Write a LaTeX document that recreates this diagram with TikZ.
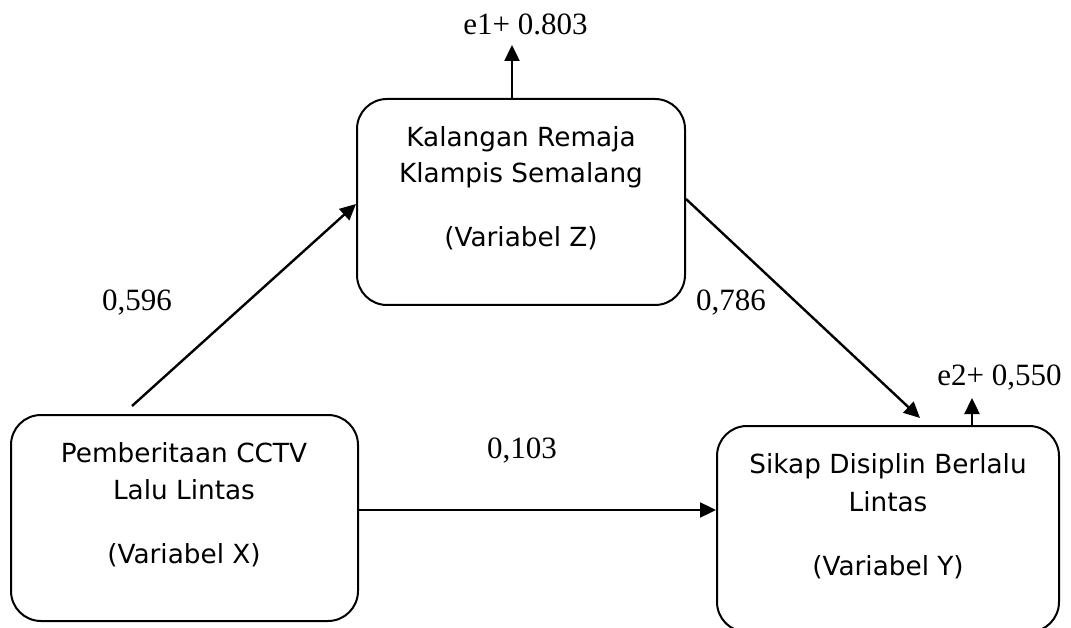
\documentclass[tikz,border=0pt]{standalone}
\usepackage{fontspec}
\setmainfont{Liberation Serif}
\newfontfamily\boxfont{DejaVu Sans}
\usetikzlibrary{arrows.meta}
\begin{document}
\begin{tikzpicture}[x=1pt,y=-1pt,
  varbox/.style={draw=black, line width=2pt, rounded corners=30pt, inner sep=0pt},
  boxtext/.style={font=\boxfont\fontsize{26.3}{31}\selectfont, anchor=base, inner sep=0pt},
  coef/.style={font=\fontsize{31}{37}\selectfont, anchor=base, inner sep=0pt},
  arrowline/.style={line width=2.4pt, -{Triangle[length=16pt,width=15pt]}}]
\fill[white] (0,0) rectangle (1071,628);
\useasboundingbox (0,0) rectangle (1071,628);
% boxes
\node[varbox, minimum width=347pt, minimum height=206pt] (x) at (184.5,518) {};
\node[varbox, minimum width=328pt, minimum height=206pt] (z) at (521,202) {};
\node[varbox, minimum width=342pt, minimum height=206pt] (y) at (888,529) {};
% box texts
\node[boxtext] (x1) at (184,462) {Pemberitaan CCTV};
\node[boxtext] (x2) at (184,499) {Lalu Lintas};
\node[boxtext] (x3) at (184,563) {(Variabel X)};
\node[boxtext] (z1) at (521,147) {Kalangan Remaja};
\node[boxtext] (z2) at (521,183) {Klampis Semalang};
\node[boxtext] (z3) at (521,247) {(Variabel Z)};
\node[boxtext] (y1) at (888,473) {Sikap Disiplin Berlalu};
\node[boxtext] (y2) at (888,511) {Lintas};
\node[boxtext] (y3) at (888,575) {(Variabel Y)};
% coefficients
\node[coef] (e1lab) at (525.5,35) {e1+ 0.803};
\node[coef] (e2lab) at (999.5,385) {e2+ 0,550};
\node[coef] (cxz) at (137,311) {0,596};
\node[coef] (czy) at (731,311) {0,786};
\node[coef] (cxy) at (522,458) {0,103};
% connectors
\coordinate (e1tip) at (512,45);
\coordinate (e2tip) at (972,398);
\draw[arrowline] ([xshift=-52.5pt,yshift=8pt]x.north) -- ([yshift=-2pt]z.west);
\draw[arrowline] ([yshift=3pt]z.east) -- ([xshift=32pt,yshift=7pt]y.north);
\draw[arrowline] ([yshift=8pt]x.east) -- ([yshift=8pt]x.east -| y.west);
\draw[arrowline] (e1tip |- z.north) -- (e1tip);
\draw[arrowline] (e2tip |- y.north) -- (e2tip);
\end{tikzpicture}
\end{document}
